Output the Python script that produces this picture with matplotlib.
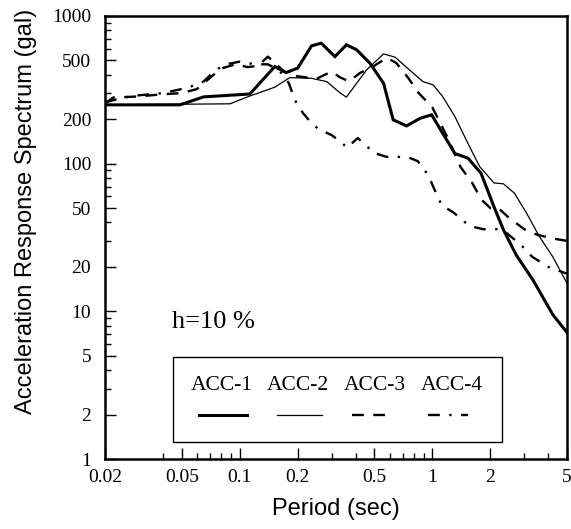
"""Acceleration response spectra (h=10 %) for ACC-1..ACC-4, log-log."""

import matplotlib
matplotlib.use("Agg")
import matplotlib.pyplot as plt
from matplotlib.lines import Line2D
from matplotlib.patches import Rectangle
from matplotlib.ticker import FixedLocator, LogLocator, NullFormatter

# period (sec) / response (gal)
acc1_t = [0.02, 0.049, 0.065, 0.113, 0.152, 0.174, 0.20, 0.236, 0.265, 0.312, 0.358,
          0.405, 0.474, 0.558, 0.626, 0.735, 0.866, 0.992, 1.13, 1.31, 1.53, 1.79,
          2.09, 2.34, 2.73, 3.33, 4.22, 5.0]
acc1_a = [250, 250, 283, 296, 454, 413, 443, 627, 653, 530, 637,
          589, 478, 350, 198, 180, 203, 214, 161, 117, 109, 86,
          51, 35.6, 24, 16.3, 9.5, 7.2]

acc2_t = [0.02, 0.089, 0.113, 0.152, 0.182, 0.236, 0.283, 0.333, 0.358, 0.455, 0.558,
          0.641, 0.762, 0.894, 1.01, 1.13, 1.31, 1.53, 1.76, 2.09, 2.34, 2.67,
          3.09, 3.6, 4.22, 5.0]
acc2_a = [250, 254, 287, 329, 382, 378, 359, 300, 282, 430, 553,
          525, 430, 359, 341, 285, 208, 137, 95.5, 74, 73, 63,
          46, 32, 23.4, 15.5]

acc3_t = [0.02, 0.022, 0.03, 0.04, 0.05, 0.06, 0.07, 0.08, 0.095, 0.11, 0.125,
          0.14, 0.155, 0.17, 0.20, 0.25, 0.30, 0.33, 0.37, 0.42, 0.50, 0.58,
          0.65, 0.75, 0.85, 1.0, 1.2, 1.4, 1.6, 1.8, 2.0, 2.2, 2.5, 3.0,
          3.5, 4.3, 5.0]
acc3_a = [255, 280, 285, 295, 300, 320, 380, 440, 470, 450, 460,
          530, 470, 420, 390, 375, 420, 385, 360, 410, 460, 520,
          480, 380, 300, 240, 150, 95, 75, 57, 50, 50, 43, 36,
          33, 31, 30]

acc4_t = [0.02, 0.025, 0.03, 0.04, 0.05, 0.055, 0.065, 0.075, 0.085, 0.10, 0.12,
          0.14, 0.16, 0.18, 0.193, 0.213, 0.24, 0.26, 0.30, 0.34, 0.36, 0.41,
          0.46, 0.50, 0.58, 0.74, 0.84, 0.95, 1.03, 1.12, 1.28, 1.55, 1.83,
          2.3, 2.9, 3.3, 4.0, 5.0]
acc4_a = [260, 280, 290, 300, 320, 330, 360, 430, 470, 490, 470,
          470, 430, 350, 270, 220, 183, 170, 156, 138, 128, 149,
          130, 118, 111, 111, 104, 84, 66, 52, 47, 38, 36,
          36, 28, 23.4, 20, 18]

labels = ["ACC-1", "ACC-2", "ACC-3", "ACC-4"]
x_ticks = [0.02, 0.05, 0.1, 0.2, 0.5, 1, 2, 5]
x_ticklabels = ["0.02", "0.05", "0.1", "0.2", "0.5", "1", "2", "5"]
# the original has no minor tick at 0.03
x_minor = [0.04, 0.06, 0.07, 0.08, 0.09, 0.3, 0.4, 0.6, 0.7, 0.8, 0.9, 3, 4]
y_ticks = [1, 2, 5, 10, 20, 50, 100, 200, 500, 1000]
y_ticklabels = ["1", "2", "5", "10", "20", "50", "100", "200", "500", "1000"]

SERIF = "Liberation Serif"
SANS = "Liberation Sans"

styles = [
    dict(color="black", lw=2.2, ls="-"),
    dict(color="black", lw=0.9, ls="-"),
    dict(color="black", lw=1.7, ls=(0, (5, 4))),
    dict(color="black", lw=1.7, ls=(0, (5, 4, 1, 4))),
]

fig = plt.figure(figsize=(5.71, 5.29), dpi=100)
ax = fig.add_axes([0.184, 0.132, 0.809, 0.838])

series = [(acc1_t, acc1_a), (acc2_t, acc2_a), (acc3_t, acc3_a), (acc4_t, acc4_a)]
for (t, a), st in zip(series, styles):
    ax.plot(t, a, solid_joinstyle="miter", **st)

ax.set_xscale("log"); ax.set_yscale("log")
ax.set_xlim(0.02, 5); ax.set_ylim(1, 1000)

ax.xaxis.set_major_locator(FixedLocator(x_ticks))
ax.set_xticklabels(x_ticklabels, fontfamily=SERIF, fontsize=14)
ax.xaxis.set_minor_locator(FixedLocator(x_minor))
ax.xaxis.set_minor_formatter(NullFormatter())
ax.yaxis.set_major_locator(FixedLocator(y_ticks))
ax.set_yticklabels(y_ticklabels, fontfamily=SERIF, fontsize=14)
ax.yaxis.set_minor_locator(LogLocator(base=10, subs=range(2, 10), numticks=20))
ax.yaxis.set_minor_formatter(NullFormatter())
ax.tick_params(which="both", direction="in", top=False, right=False, width=1.0)
ax.tick_params(which="major", length=8)
ax.tick_params(which="minor", length=4)
ax.tick_params(axis="x", pad=7)
ax.tick_params(axis="y", pad=10)
for sp in ax.spines.values():
    sp.set_linewidth(1.8)

ax.set_xlabel("Period (sec)", fontfamily=SANS, fontsize=17, labelpad=9)
ax.set_ylabel("Acceleration Response Spectrum (gal)", fontfamily=SANS, fontsize=17)
ax.yaxis.set_label_coords(-0.147, 0.558)

ax.text(0.145, 0.309, "h=10 %", transform=ax.transAxes, fontfamily=SERIF,
        fontsize=19, va="center", ha="left")

# legend drawn by hand: labels above line samples
ax.add_patch(Rectangle((0.147, 0.038), 0.712, 0.192, transform=ax.transAxes,
                       fill=False, lw=1.0, ec="black"))
label_x = [0.252, 0.418, 0.584, 0.750]
sample_x = [(0.203, 0.307), (0.372, 0.470), (0.535, 0.614), (0.699, 0.786)]
for lab, cx, (x0, x1), st in zip(labels, label_x, sample_x, styles):
    ax.text(cx, 0.167, lab, transform=ax.transAxes, fontfamily=SERIF,
            fontsize=15.5, ha="center", va="center")
    ax.add_line(Line2D([x0, x1], [0.099, 0.099], transform=ax.transAxes, **st))

fig.savefig("out.png", dpi=100)
